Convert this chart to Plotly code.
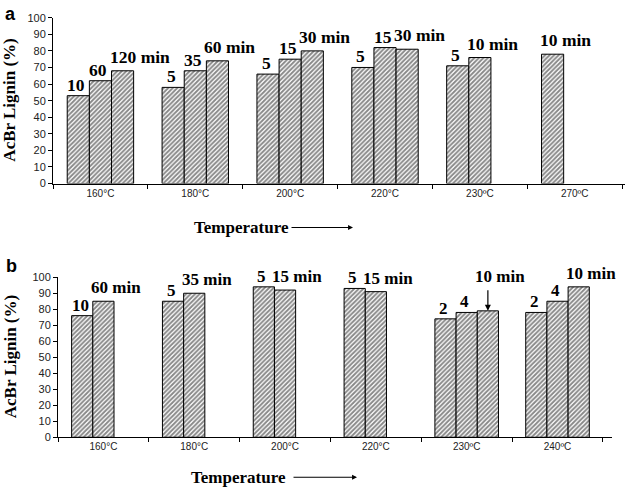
import plotly.graph_objects as go

# ---------------- data ----------------
temps_a = ["160°C", "180°C", "200°C", "220°C", "230ºC", "270ºC"]
a_slot1 = [53, 58, 66, 70, 71, 78]
a_slot2 = [62, 68, 75, 82, 76, None]
a_slot3 = [68, 74, 80, 81, None, None]
a_lab1 = ["10", "5", "5", "5", "5", "10 min"]
a_lab2 = ["60", "35", "15", "15", "10 min", None]
a_lab3 = ["120 min", "60 min", "30 min", "30 min", None, None]

temps_b = ["160°C", "180°C", "200°C", "220°C", "230ºC", "240ºC"]
b_slot1 = [76, 85, 94, 93, 74, 78]
b_slot2 = [85, 90, 92, 91, 78, 85]
b_slot3 = [None, None, None, None, 79, 94]
b_lab1 = ["10", "5", "5", "5", "2", "2"]
b_lab2 = ["60 min", "35 min", "15 min", "15 min", "4", "4"]
b_lab3 = [None, None, None, None, "10 min", "10 min"]
b_arrow3 = [False, False, False, False, True, False]

W, H = 628, 494
BARGAP = 0.3
SERIF = "Liberation Serif"
SANS = "Liberation Sans"

def px(x):
    return x / W

def py(y):
    return 1 - y / H

pattern = dict(shape="/", size=3.2, solidity=0.6, fgcolor="#111111", bgcolor="white")
fig = go.Figure()

panels = [
    ("x", "y", temps_a, [a_slot1, a_slot2, a_slot3], [a_lab1, a_lab2, a_lab3], [None, None, None], 17.5),
    ("x2", "y2", temps_b, [b_slot1, b_slot2, b_slot3], [b_lab1, b_lab2, b_lab3], [None, None, b_arrow3], 17),
]

annotations = []
w = (1 - BARGAP) / 3
for xa, ya, cats, slots, labs, arrows, fsize in panels:
    for s, vals in enumerate(slots):
        fig.add_trace(go.Bar(
            x=cats, y=vals, xaxis=xa, yaxis=ya, showlegend=False,
            marker=dict(color="white", line=dict(color="black", width=1), pattern=pattern),
            hoverinfo="skip",
        ))
        for i, (v, t) in enumerate(zip(vals, labs[s])):
            if v is None or t is None:
                continue
            left = i - 1.5 * w + s * w
            raised = arrows[s] is not None and arrows[s][i]
            is_min = "min" in t
            if is_min:
                ax_x, anchor, xs, ys = left, "left", -3, 3
            else:
                ax_x, anchor, xs, ys = left + w / 2, "center", -2, 0
            annotations.append(dict(
                x=ax_x, y=v, xref=xa, yref=ya, text=t, showarrow=False,
                xanchor=anchor, yanchor="bottom", xshift=xs,
                yshift=24 if raised else ys, borderpad=0,
                font=dict(family=SERIF, size=fsize, color="black", weight="bold"),
            ))
            if raised:
                annotations.append(dict(
                    x=left + w / 2, y=v, xref=xa, yref=ya, text="", showarrow=True,
                    ax=0, ay=-22, arrowhead=2, arrowsize=1, arrowwidth=1.2,
                    arrowcolor="black", standoff=0,
                ))

# axis titles, panel letters, temperature arrows
for letter, lx, ly, ycen, tx, ty, ax0, ax1 in [
    ("a", 10, 8, 97, 241, 227, 290, 353),
    ("b", 11, 266, 360, 238, 483, 292, 357),
]:
    annotations.append(dict(x=px(lx), y=py(ly), xref="paper", yref="paper", text=letter,
                            showarrow=False, xanchor="center", yanchor="middle",
                            font=dict(family=SANS, size=18, color="black", weight="bold")))
    annotations.append(dict(x=px(10), y=py(ycen), xref="paper", yref="paper", text="AcBr Lignin (%)",
                            showarrow=False, textangle=-90, xanchor="center", yanchor="middle",
                            font=dict(family=SERIF, size=17, color="black", weight="bold")))
    annotations.append(dict(x=px(tx), y=py(ty), xref="paper", yref="paper", text="Temperature",
                            showarrow=False, xanchor="center", yanchor="middle",
                            font=dict(family=SERIF, size=17, color="black", weight="bold")))
    annotations.append(dict(x=px(ax1), y=py(ty), xref="paper", yref="paper", text="",
                            showarrow=True, axref="pixel", ayref="pixel", ax=-(ax1 - ax0), ay=0,
                            arrowhead=2, arrowsize=0.9, arrowwidth=1.1, arrowcolor="black", standoff=0))

xcommon = dict(type="category", showline=True, linecolor="black", linewidth=1, ticks="outside",
               ticklen=4, tickcolor="black", tickson="boundaries", showgrid=False, zeroline=False,
               tickfont=dict(family=SANS, size=10, color="#222"))
ycommon = dict(range=[0, 100], dtick=10, showline=True, linecolor="black", linewidth=1, ticks="outside",
               ticklen=4, tickcolor="black", showgrid=False, zeroline=False,
               tickfont=dict(family=SANS, size=11, color="#222"))

fig.update_layout(
    width=W, height=H, margin=dict(l=0, r=0, t=0, b=0),
    paper_bgcolor="white", plot_bgcolor="white",
    barmode="group", bargap=BARGAP, bargroupgap=0,
    xaxis=dict(domain=[px(53), px(625)], anchor="y", range=[-0.5, 5.53], **xcommon),
    yaxis=dict(domain=[py(182), py(12)], anchor="x", **ycommon),
    xaxis2=dict(domain=[px(58), px(612)], anchor="y2", range=[-0.5, 5.6], **xcommon),
    yaxis2=dict(domain=[py(442), py(278)], anchor="x2", **ycommon),
    annotations=annotations,
)

fig.write_html("out.html", config={"displayModeBar": False},
               post_script="document.body.style.margin='0';document.body.style.overflow='hidden';")
